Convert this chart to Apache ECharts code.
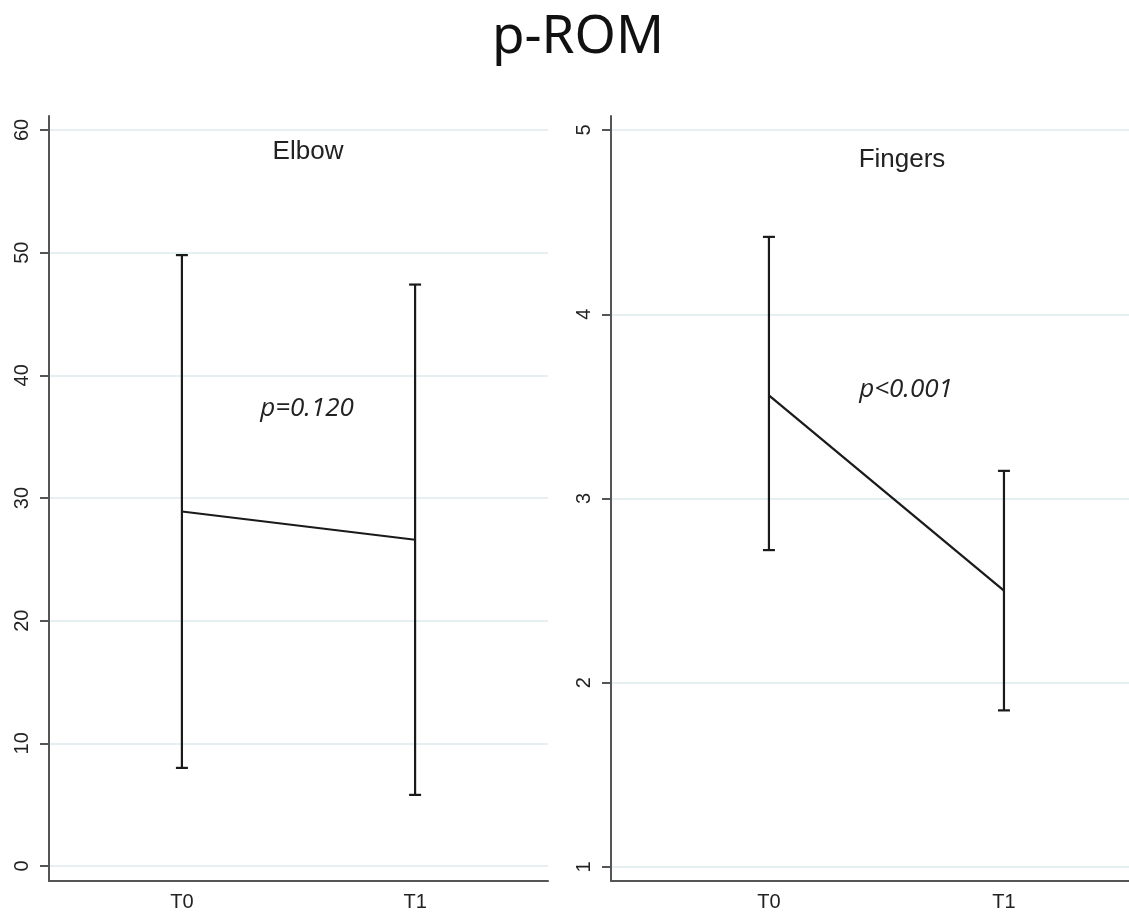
<!DOCTYPE html>
<html>
<head>
<meta charset="utf-8">
<script src="https://cdn.jsdelivr.net/npm/echarts@6/dist/echarts.min.js"></script>
<style>
html,body{margin:0;padding:0;background:#fff;}
#chart{width:1129px;height:912px;}
</style>
</head>
<body>
<div id="chart"></div>
<script>
const categories = ['T0', 'T1'];
const elbowMean = [28.9, 26.6];
const elbowLow = [8.0, 5.8];
const elbowHigh = [49.8, 47.4];
const fingersMean = [3.56, 2.50];
const fingersLow = [2.72, 1.85];
const fingersHigh = [4.42, 3.15];
const elbowTicks = [0, 10, 20, 30, 40, 50, 60];
const fingersTicks = [1, 2, 3, 4, 5];
const mainTitle = 'p-ROM';
const panelTitles = ['Elbow', 'Fingers'];
const pTexts = ['p=0.120', 'p<0.001'];

const chart = echarts.init(document.getElementById('chart'), null, {renderer: 'canvas'});
const axisColor = '#555';
const textColor = '#222';
const gridColor = '#e6eff1';

function yAxis(idx, min, max, ticks) {
  return {
    type: 'value', gridIndex: idx, min: min, max: max,
    axisLine: {show: true, onZero: false, lineStyle: {color: axisColor, width: 2}},
    axisTick: {show: true, length: 9, customValues: ticks, lineStyle: {color: axisColor, width: 2}},
    axisLabel: {customValues: ticks, rotate: 90, margin: 17, fontSize: 20, color: textColor, fontFamily: 'Liberation Sans'},
    splitLine: {show: true, lineStyle: {color: gridColor, width: 2}}
  };
}
function xAxis(idx, min, max) {
  return {
    type: 'value', gridIndex: idx, min: min, max: max,
    axisLine: {show: true, onZero: false, lineStyle: {color: axisColor, width: 2}},
    axisTick: {show: false},
    splitLine: {show: false},
    axisLabel: {customValues: [0, 1], formatter: v => categories[Math.round(v)], margin: 11, fontSize: 20, color: textColor, fontFamily: 'Liberation Sans'}
  };
}
function errData(low, high) {
  return categories.map((c, i) => [i, low[i], high[i]]);
}
function errSeries(idx, low, high) {
  return {
    type: 'custom', xAxisIndex: idx, yAxisIndex: idx,
    data: errData(low, high),
    renderItem: function (params, api) {
      const x = api.value(0);
      const lo = api.coord([x, api.value(1)]);
      const hi = api.coord([x, api.value(2)]);
      const hw = 6;
      const st = {stroke: '#1a1a1a', lineWidth: 2.2, fill: null};
      return {type: 'group', children: [
        {type: 'line', shape: {x1: lo[0], y1: lo[1], x2: hi[0], y2: hi[1]}, style: st},
        {type: 'line', shape: {x1: lo[0] - hw, y1: lo[1], x2: lo[0] + hw, y2: lo[1]}, style: st},
        {type: 'line', shape: {x1: hi[0] - hw, y1: hi[1], x2: hi[0] + hw, y2: hi[1]}, style: st}
      ]};
    },
    z: 3
  };
}
function meanSeries(idx, mean) {
  return {
    type: 'line', xAxisIndex: idx, yAxisIndex: idx,
    data: categories.map((c, i) => [i, mean[i]]),
    symbol: 'none', lineStyle: {color: '#1a1a1a', width: 2.2}, z: 3
  };
}
function label(text, x, y, size, family, italic, color) {
  return {type: 'text', x: x, y: y, z: 10, style: {
    text: text, textAlign: 'center', textVerticalAlign: 'middle',
    fontSize: size, fontFamily: family, fontStyle: italic ? 'italic' : 'normal', fill: color
  }};
}

chart.setOption({
  animation: false,
  backgroundColor: '#fff',
  graphic: [
    label(mainTitle, 578, 38, 53, 'Noto Sans', false, '#111'),
    label(panelTitles[0], 308, 152, 26, 'Liberation Sans', false, textColor),
    label(panelTitles[1], 902, 160, 26, 'Liberation Sans', false, textColor),
    label(pTexts[0], 307, 409, 26, 'Open Sans', true, textColor),
    label(pTexts[1], 906, 390, 26, 'Open Sans', true, textColor)
  ],
  grid: [
    {left: 49, right: 581, top: 116, bottom: 30},
    {left: 611, right: 0, top: 116, bottom: 30}
  ],
  xAxis: [xAxis(0, -0.57, 1.57), xAxis(1, -0.672, 1.532)],
  yAxis: [yAxis(0, -1.22, 61.14, elbowTicks), yAxis(1, 0.924, 5.076, fingersTicks)],
  series: [
    errSeries(0, elbowLow, elbowHigh),
    meanSeries(0, elbowMean),
    errSeries(1, fingersLow, fingersHigh),
    meanSeries(1, fingersMean)
  ]
});
</script>
</body>
</html>
